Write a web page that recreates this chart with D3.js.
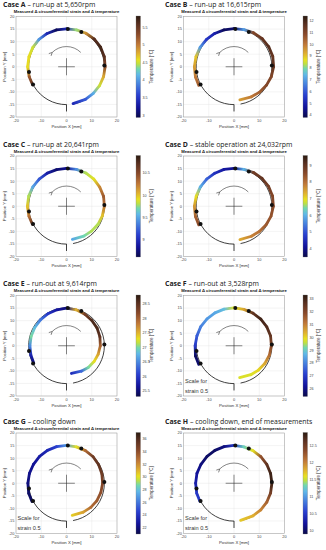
<!DOCTYPE html>
<html><head><meta charset="utf-8">
<script src="https://cdn.jsdelivr.net/npm/d3@7"></script>
<style>body{margin:0;background:#fff}svg{display:block}</style>
</head><body><svg id="c" width="326" height="550"></svg>
<script>
// ---------- data ----------
const caseIds = ["A","B","C","D","E","F","G","H"];
const caseTitles = ["run-up at 5,650rpm","run-up at 16,615rpm","run-up at 20,641rpm","stable operation at 24,032rpm",
  "run-out at 9,614rpm","run-out at 3,528rpm","cooling down","cooling down, end of measurements"];
const subtitle = "Measured \u0394 circumferential strain and \u0394 temperature";
// angular positions (deg) of the measured nodes along the fibre
const nodeAngles = [208,195,180,165,150,135,120,105,90,75,60,45,30,15,0,-15,-30,-45,-60,-80];
// temperatures [°C] per case along the nodes
const tempA = [5.6,5.2,4.6,4.6,4.5,4.0,3.4,3.0,3.4,4.4,4.9,5.6,5.7,5.6,5.3,4.8,4.5,4.1,3.7,3.4];
const tempB = [10.5,10.0,9.5,9.0,7.0,5.5,5.0,4.0,4.2,7.0,11.0,11.5,11.8,11.5,11.5,11.0,11.0,10.5,10.0,9.5];
const tempC = [10.7,10.3,10.0,9.8,9.5,9.2,8.9,8.7,8.8,9.4,9.8,9.9,10.2,10.4,10.3,10.0,9.8,9.8,9.7,9.5];
const tempD = [8.5,8.2,7.6,7.0,6.0,5.2,4.6,4.2,4.0,6.0,8.8,9.0,8.8,8.6,8.5,8.4,8.3,8.0,7.8,7.4];
const tempE = [25.5,25.8,26.5,27.0,26.8,26.4,26.0,25.7,25.5,27.5,28.3,28.6,28.6,28.5,28.0,27.6,27.3,27.0,26.3,25.9];
const tempF = [25.8,25.6,27.0,27.5,28.0,28.3,28.5,28.8,29.8,30.5,32.5,33.0,32.8,32.5,32.0,31.3,30.5,30.0,29.8,29.8];
const tempG = [21.5,21.5,22.0,22.3,22.5,23.0,23.5,24.5,27.0,30.0,33.0,35.0,35.5,35.0,34.5,34.0,33.5,33.0,31.5,30.5];
const tempH = [10.5,10.5,10.3,10.2,10.1,10.0,10.0,10.1,10.5,11.3,11.6,12.3,12.6,12.8,12.8,12.5,12.2,12.0,11.8,11.7];
// radial strain offsets [mm on plot scale] per case along the nodes
const strainA = [0.2,0.3,0.4,0.4,0.4,0.4,0.3,0.2,0.1,0.2,0.4,0.6,0.6,0.5,0.3,0.2,0.1,0.0,0.0,-0.1];
const strainB = [0.8,0.8,0.7,0.6,0.5,0.4,0.3,0.2,0.2,0.3,0.6,0.8,0.9,0.9,0.7,0.3,-0.2,-0.7,-1.2,-1.6];
const strainC = [0.3,0.4,0.5,0.5,0.4,0.3,0.2,0.1,0.1,0.2,0.3,0.3,0.2,0.2,0.0,-0.3,-0.6,-1.0,-1.3,-1.6];
const strainD = [0.8,0.8,0.7,0.5,0.4,0.3,0.2,0.2,0.1,0.2,0.5,0.7,0.8,0.8,0.6,0.2,-0.3,-0.8,-1.2,-1.5];
const strainE = [-0.3,-0.4,-0.5,-0.5,-0.5,-0.4,-0.3,-0.2,0.0,-0.2,-0.5,-0.8,-1.0,-1.3,-1.6,-2.0,-2.4,-2.8,-3.3,-3.8];
const strainF = [0.8,0.8,0.4,0.2,0.2,0.1,0.1,0.1,0.1,0.0,0.0,0.0,0.0,0.0,-0.2,-0.5,-0.9,-1.3,-1.7,-2.1];
const strainG = [0.5,0.5,0.3,0.2,0.1,0.1,0.1,0.1,0.1,0.0,0.0,-0.1,-0.3,-0.5,-0.7,-0.9,-1.1,-1.4,-1.7,-2.0];
const strainH = [0.3,0.3,0.2,0.2,0.1,0.1,0.1,0.1,0.1,0.0,0.0,0.0,0.0,0.0,0.0,0.0,0.0,0.0,0.0,0.0];
const temps = [tempA,tempB,tempC,tempD,tempE,tempF,tempG,tempH];
const strains = [strainA,strainB,strainC,strainD,strainE,strainF,strainG,strainH];
// colour bar ranges and ticks
const tempDomains = [[2.94,5.82],[3.8,12.4],[8.6,10.9],[3.5,9.6],[25.3,28.8],[25.4,33.3],[21,37],[9.9,12.9]];
const tempTicks = [[3,3.5,4,4.5,5,5.5],[4,5,6,7,8,9,10,11,12],[9,9.5,10,10.5],[4,5,6,7,8,9],
  [25.5,26,26.5,27,27.5,28,28.5],[26,27,28,29,30,31,32,33],[22,24,26,28,30,32,34,36],[10,10.5,11,11.5,12,12.5]];
const sensorAngles = [88,67,2,188,208];
const baseRadius = 15;
const baseArc = [270,-80];
const stub = [-15,-17.8];
const xTicks = [-20,-10,0,10,20];
const yTicks = [20,15,10,5,0,-5,-10,-15,-20];
const showScaleNote = [false,false,false,false,false,true,true,true];
const cmapStops = [0,0.10,0.22,0.34,0.42,0.48,0.53,0.57,0.63,0.72,0.82,0.92,1];
const cmapColors = ["#0a0a4a","#12129a","#2a40d0","#4a88e0","#60b8e8","#70d8b0","#c0e040","#e8e020","#e0b030","#c07838","#8a4a2a","#5a3020","#2a1a10"];

// ---------- layout ----------
const colX = [16,183.5], cbX = [136,303], titleX = [3,165];
const rowY = [16.5,156,295.5,433];
const W = 101, H = 100.5;
const cmap = d3.scaleLinear().domain(cmapStops).range(cmapColors).interpolate(d3.interpolateRgb).clamp(true);
const svg = d3.select("#c");
const defs = svg.append("defs");
const rad = d => d*Math.PI/180;

caseIds.forEach((id,i)=>{
  const col = i%2, row = Math.floor(i/2);
  const x0 = colX[col], y0 = rowY[row];
  const x = d3.scaleLinear([-20,20],[x0,x0+W]);
  const y = d3.scaleLinear([-20,20],[y0+H,y0]);
  const tnorm = d3.scaleLinear(tempDomains[i],[0,1]);
  const col4 = t => cmap(tnorm(t));
  const g = svg.append("g");

  // titles
  const t = g.append("text").attr("x",titleX[col]).attr("y",y0-9.3)
    .attr("font-family","Open Sans").attr("font-size",6.9).attr("fill","#222");
  t.append("tspan").attr("font-weight","bold").text("Case "+id);
  t.append("tspan").text(" \u2013 "+caseTitles[i]);
  g.append("text").attr("x",x0+W/2).attr("y",y0-3.3).attr("text-anchor","middle")
    .attr("font-family","Liberation Sans").attr("font-weight","bold").attr("font-size",4.2).attr("fill","#111").text(subtitle);

  // grid
  g.append("g").selectAll("line").data(yTicks).join("line")
    .attr("x1",x0).attr("x2",x0+W).attr("y1",d=>y(d)).attr("y2",d=>y(d)).attr("stroke","#e4e4e4").attr("stroke-width",0.4);
  g.append("g").selectAll("line").data(xTicks).join("line")
    .attr("y1",y0).attr("y2",y0+H).attr("x1",d=>x(d)).attr("x2",d=>x(d)).attr("stroke","#e4e4e4").attr("stroke-width",0.4);
  g.append("rect").attr("x",x0).attr("y",y0).attr("width",W).attr("height",H)
    .attr("fill","none").attr("stroke","#9a9a9a").attr("stroke-width",0.5);
  // tick labels
  g.append("g").selectAll("text").data(xTicks).join("text")
    .attr("x",d=>x(d)).attr("y",y0+H+4.8).attr("text-anchor","middle")
    .attr("font-family","Liberation Sans").attr("font-size",3.9).attr("fill","#444").text(d=>d);
  g.append("g").selectAll("text").data(yTicks).join("text")
    .attr("x",x0-1.6).attr("y",d=>y(d)+1.4).attr("text-anchor","end")
    .attr("font-family","Liberation Sans").attr("font-size",3.9).attr("fill","#444").text(d=>d);
  g.append("text").attr("x",x0+W/2).attr("y",y0+H+10.8).attr("text-anchor","middle")
    .attr("font-family","Liberation Sans").attr("font-size",4.3).attr("fill","#333").text("Position X [mm]");
  g.append("text").attr("transform",`translate(${x0-10.5},${y0+H/2}) rotate(-90)`).attr("text-anchor","middle")
    .attr("font-family","Liberation Sans").attr("font-size",4.3).attr("fill","#333").text("Position Y [mm]");

  // base circle
  const pr = x(baseRadius)-x(0), cx = x(0), cy = y(0);
  const p = d3.path();
  const a0 = rad(-baseArc[0]), a1 = rad(-baseArc[1]);
  p.moveTo(cx+pr*Math.cos(a0), cy+pr*Math.sin(a0));
  p.arc(cx,cy,pr,a0,a1,false);
  g.append("path").attr("d",p.toString()).attr("fill","none").attr("stroke","#2a2a2a").attr("stroke-width",0.9);
  g.append("line").attr("x1",x(0)).attr("x2",x(0)).attr("y1",y(stub[0])).attr("y2",y(stub[1]))
    .attr("stroke","#2a2a2a").attr("stroke-width",0.9);

  // strain curve coloured by temperature
  const pts = nodeAngles.map((a,k)=>{
    const r = baseRadius + strains[i][k];
    return [x(r*Math.cos(rad(a))), y(r*Math.sin(rad(a))), temps[i][k]];
  });
  for(let k=0;k<pts.length-1;k++){
    const gid = `g${i}_${k}`;
    const lg = defs.append("linearGradient").attr("id",gid).attr("gradientUnits","userSpaceOnUse")
      .attr("x1",pts[k][0]).attr("y1",pts[k][1]).attr("x2",pts[k+1][0]).attr("y2",pts[k+1][1]);
    lg.append("stop").attr("offset",0).attr("stop-color",col4(pts[k][2]));
    lg.append("stop").attr("offset",1).attr("stop-color",col4(pts[k+1][2]));
    g.append("path").attr("d",d3.line()([pts[k],pts[k+1]].map(q=>[q[0],q[1]])))
      .attr("stroke",`url(#${gid})`).attr("stroke-width",2.8).attr("stroke-linecap","round").attr("fill","none");
  }

  // sensors
  g.append("g").selectAll("circle").data(sensorAngles).join("circle")
    .attr("cx",d=>x(baseRadius*Math.cos(rad(d)))).attr("cy",d=>y(baseRadius*Math.sin(rad(d))))
    .attr("r",2).attr("fill","#111");

  // cross
  g.append("line").attr("x1",x(-3.3)).attr("x2",x(3.3)).attr("y1",y(0)).attr("y2",y(0)).attr("stroke","#333").attr("stroke-width",0.6);
  g.append("line").attr("x1",x(0)).attr("x2",x(0)).attr("y1",y(3.4)).attr("y2",y(-3.4)).attr("stroke","#333").attr("stroke-width",0.6);
  // rotation arrow
  const ar = x(8)-x(0);
  const ap = d3.path();
  const b0 = rad(-45), b1 = rad(-135);
  ap.moveTo(cx+ar*Math.cos(b0), cy+ar*Math.sin(b0));
  ap.arc(cx,cy,ar,b0,b1,true);
  g.append("path").attr("d",ap.toString()).attr("fill","none").attr("stroke","#333").attr("stroke-width",0.6);
  const ex = cx+ar*Math.cos(b1), ey = cy+ar*Math.sin(b1);
  const tx = Math.sin(b1), ty = -Math.cos(b1);
  const nx = -ty, ny = tx;
  g.append("path").attr("d",`M${ex+tx*3.2+nx*1.6},${ey+ty*3.2+ny*1.6} L${ex},${ey} L${ex+tx*3.2-nx*1.6},${ey+ty*3.2-ny*1.6}`)
    .attr("fill","none").attr("stroke","#333").attr("stroke-width",0.6);

  if(showScaleNote[i]){
    g.append("text").attr("x",x0+1.5).attr("y",y(-14.8)).attr("font-family","Liberation Sans").attr("font-size",5.6).attr("fill","#333").text("Scale for");
    g.append("text").attr("x",x0+1.5).attr("y",y(-18.8)).attr("font-family","Liberation Sans").attr("font-size",5.6).attr("fill","#333").text("strain 0.5");
  }

  // colour bar
  const cgid = `cb${i}`;
  const cg = defs.append("linearGradient").attr("id",cgid).attr("x1",0).attr("y1",1).attr("x2",0).attr("y2",0);
  cmapStops.forEach((s,k)=>cg.append("stop").attr("offset",s).attr("stop-color",cmapColors[k]));
  const cy0 = y0-0.5, cy1 = y0+H+0.5;
  const cs = d3.scaleLinear(tempDomains[i],[cy1,cy0]);
  g.append("rect").attr("x",cbX[col]).attr("y",cy0).attr("width",4.5).attr("height",cy1-cy0)
    .attr("fill",`url(#${cgid})`).attr("stroke","#777").attr("stroke-width",0.3);
  g.append("g").selectAll("text").data(tempTicks[i]).join("text")
    .attr("x",cbX[col]+6.5).attr("y",d=>cs(d)+1.3)
    .attr("font-family","Liberation Sans").attr("font-size",3.7).attr("fill","#444").text(d=>d);
  g.append("text").attr("transform",`translate(${cbX[col]+16.5},${(cy0+cy1)/2}) rotate(-90)`).attr("text-anchor","middle")
    .attr("font-family","Liberation Sans").attr("font-size",4.5).attr("fill","#333").text("Temperature [\u00b0C]");
});
</script></body></html>
